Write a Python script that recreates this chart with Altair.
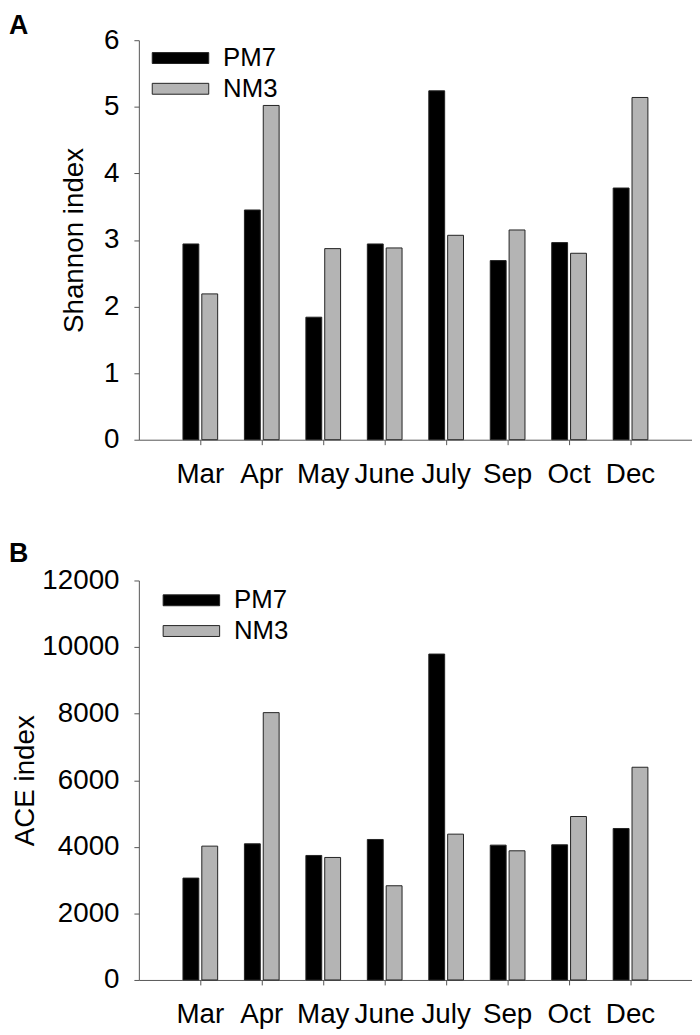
import altair as alt
import pandas as pd

months = ["Mar", "Apr", "May", "June", "July", "Sep", "Oct", "Dec"]
samples = ["PM7", "NM3"]

shannon_pm7 = [2.94, 3.45, 1.84, 2.94, 5.24, 2.69, 2.96, 3.78]
shannon_nm3 = [2.19, 5.02, 2.87, 2.88, 3.07, 3.15, 2.80, 5.14]

ace_pm7 = [3060, 4090, 3740, 4220, 9790, 4050, 4060, 4550]
ace_nm3 = [4020, 8030, 3680, 2830, 4380, 3880, 4910, 6390]

FONT = "Liberation Sans"
AX = "#555555"
FS = 28


def long_df(pm7, nm3):
    rows = []
    for m, a, b in zip(months, pm7, nm3):
        rows.append({"month": m, "sample": "PM7", "value": a})
        rows.append({"month": m, "sample": "NM3", "value": b})
    return pd.DataFrame(rows)


def panel(df, letter, ytitle, ymax, ystep, title_pad, legend_x, legend_y, letter_y):
    bars = alt.Chart(df).mark_bar(stroke="#222222", strokeWidth=1).encode(
        x=alt.X(
            "month:N",
            sort=months,
            scale=alt.Scale(paddingInner=0, paddingOuter=0.5),
            axis=alt.Axis(
                title=None, labelAngle=0, tickSize=5, labelPadding=16,
                labelFontSize=FS, labelFont=FONT, labelColor="black",
                domainColor=AX, tickColor=AX, grid=False,
            ),
        ),
        xOffset=alt.XOffset(
            "sample:N", sort=samples,
            scale=alt.Scale(paddingInner=0.158, paddingOuter=0.71),
        ),
        y=alt.Y(
            "value:Q",
            scale=alt.Scale(domain=[0, ymax], nice=False),
            axis=alt.Axis(
                title=ytitle, values=list(range(0, ymax + 1, ystep)), format="d",
                tickSize=5, labelPadding=15, labelFontSize=FS, labelFont=FONT,
                labelColor="black", titleFontSize=FS, titleFont=FONT,
                titleFontWeight="normal", titleColor="black",
                titlePadding=title_pad, domainColor=AX, tickColor=AX, grid=False,
            ),
        ),
        color=alt.Color(
            "sample:N",
            sort=samples,
            scale=alt.Scale(domain=samples, range=["#000000", "#b4b4b4"]),
            legend=alt.Legend(
                title=None, orient="none", legendX=legend_x, legendY=legend_y,
                symbolType="M-1.727,-0.333H1.727V0.333H-1.727Z", symbolSize=1089,
                symbolOffset=12,
                symbolStrokeColor="#222222", symbolStrokeWidth=1, symbolOpacity=1,
                labelFontSize=26, labelFont=FONT, labelColor="black",
                labelOffset=26, rowPadding=1, padding=0,
            ),
        ),
    )
    lab = alt.Chart(pd.DataFrame({"panel": [letter]})).mark_text(
        fontSize=27, fontWeight="bold", font=FONT, align="left", baseline="top",
        color="black",
    ).encode(x=alt.value(-131), y=alt.value(letter_y), text="panel:N")
    return alt.layer(bars, lab).properties(width=558, height=403)


chart_a = panel(long_df(shannon_pm7, shannon_nm3), "A", "Shannon index", 6, 1, 15, 13, 1, -27)
chart_b = panel(long_df(ace_pm7, ace_nm3), "B", "ACE index", 12000, 2000, 2, 24, 3, -40)

chart = (
    alt.vconcat(chart_a, chart_b, spacing=52)
    .resolve_scale(y="independent")
    .resolve_legend(color="independent")
    .properties(padding={"left": 1, "top": 0, "right": 0, "bottom": 0}, background="white")
    .configure_view(stroke=None)
)

chart.save("out.html", embed_options={"renderer": "svg", "actions": False})
